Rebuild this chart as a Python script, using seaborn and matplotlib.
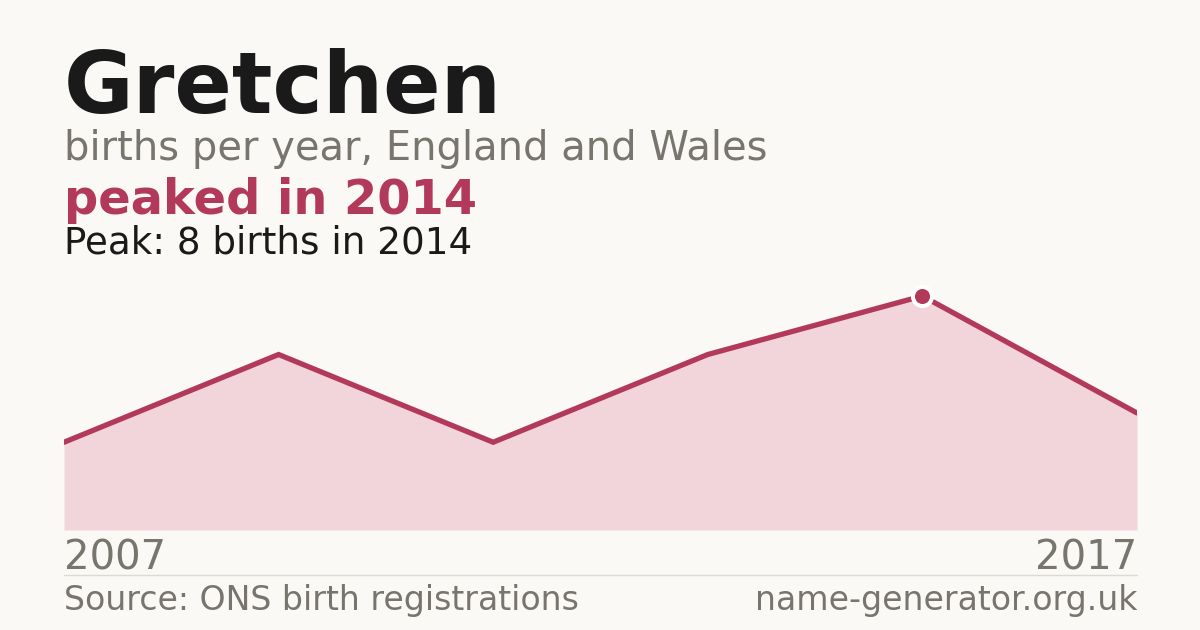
import matplotlib
matplotlib.use("Agg")
import matplotlib.pyplot as plt
import seaborn as sns
import pandas as pd

# Data
years = [2007, 2009, 2011, 2013, 2014, 2017]
births = [3, 6, 3, 6, 8, 4]
peak_year = 2014
peak_value = 8
first_label = "2007"
last_label = "2017"

BG = "#faf9f5"
ACCENT = "#b3395a"
FILL = "#f1d5da"
DARK = "#1a1a1a"
GREY = "#78746e"

sns.set_theme(style="white")
plt.rcParams['font.family'] = ['DejaVu Sans']

W, H = 1200, 630
fig = plt.figure(figsize=(12, 6.3), dpi=100, facecolor=BG)

def fx(px):
    return px / W

def fy(py):
    return 1 - py / H

x0, x1 = 64, 1137
y_base, y_top = 530, 270
ax = fig.add_axes([fx(x0), fy(y_base), fx(x1) - fx(x0), (y_base - y_top) / H])
ax.set_facecolor(BG)
ax.patch.set_alpha(0)

df = pd.DataFrame({"idx": list(range(len(years))), "year": years, "births": births})
ax.fill_between(df["idx"], 0, df["births"], color=FILL, linewidth=0, zorder=1)
sns.lineplot(data=df, x="idx", y="births", ax=ax, color=ACCENT, linewidth=3.8,
             zorder=2, solid_joinstyle="miter")
pk = df[df["year"] == peak_year]
ax.scatter(pk["idx"], pk["births"], s=190, color=ACCENT, edgecolor="white",
           linewidth=2.9, zorder=3, clip_on=False)

ax.set_xlim(0, len(years) - 1)
ax.set_ylim(0, peak_value * (y_base - y_top) / (y_base - 296))
ax.set_xlabel("")
ax.set_ylabel("")
ax.set_xticks([])
ax.set_yticks([])
for s in ax.spines.values():
    s.set_visible(False)

# Texts
fig.text(fx(64), fy(113), "Gretchen", fontsize=61, fontweight="bold", color=DARK, va="baseline", ha="left")
fig.text(fx(64), fy(160), "births per year, England and Wales", fontsize=28.8, color=GREY, va="baseline", ha="left")
fig.text(fx(64), fy(214), f"peaked in {peak_year}", fontsize=34.5, fontweight="bold", color=ACCENT, va="baseline", ha="left")
fig.text(fx(64), fy(253), f"Peak: {peak_value} births in {peak_year}", fontsize=26.8, color=DARK, va="baseline", ha="left")

fig.text(fx(64), fy(570), first_label, fontsize=28.9, color=GREY, va="baseline", ha="left")
fig.text(fx(1137), fy(570), last_label, fontsize=28.9, color=GREY, va="baseline", ha="right")

fig.add_artist(plt.Line2D([fx(64), fx(1137)], [fy(574.5), fy(574.5)], color="#dcdad4", linewidth=1))

fig.text(fx(64), fy(610), "Source: ONS birth registrations", fontsize=23.9, color=GREY, va="baseline", ha="left")
fig.text(fx(1137), fy(610), "name-generator.org.uk", fontsize=23.9, color=GREY, va="baseline", ha="right")

fig.savefig("out.png", dpi=100, facecolor=BG)
